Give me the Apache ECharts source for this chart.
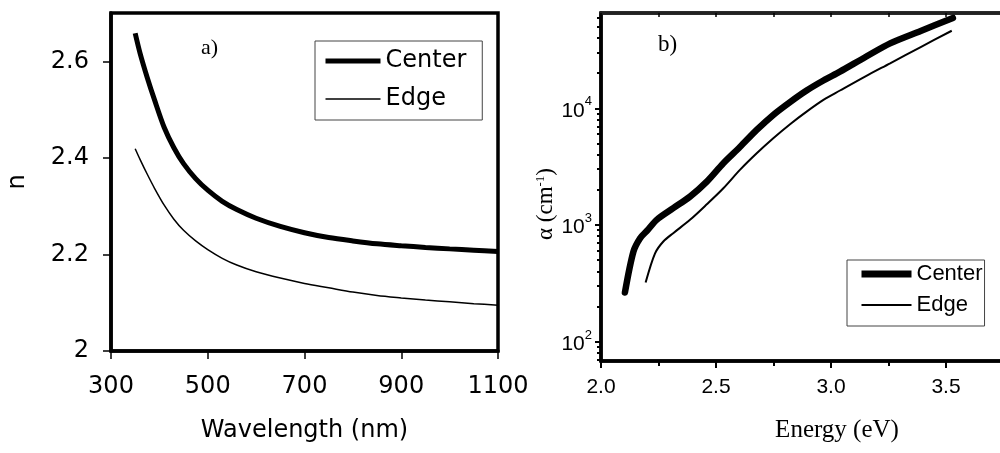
<!DOCTYPE html>
<html>
<head>
<meta charset="utf-8">
<script src="https://cdn.jsdelivr.net/npm/echarts@6/dist/echarts.min.js"></script>
<style>
html,body{margin:0;padding:0;background:#fff;}
#chart{width:1000px;height:453px;}
</style>
</head>
<body>
<div id="chart"></div>
<script>
// ---- Panel a) refractive index vs wavelength ----
const wavelength = [350, 360, 375, 390, 410, 430, 450, 475, 500, 530, 560, 600, 650, 700, 750, 800, 850, 900, 950, 1000, 1050, 1100];
const nCenter    = [2.658, 2.617, 2.566, 2.520, 2.463, 2.421, 2.388, 2.357, 2.333, 2.310, 2.293, 2.275, 2.258, 2.245, 2.235, 2.228, 2.222, 2.218, 2.2145, 2.2115, 2.2088, 2.206];
const nEdge      = [2.419, 2.397, 2.366, 2.337, 2.302, 2.273, 2.250, 2.228, 2.210, 2.192, 2.178, 2.164, 2.151, 2.140, 2.131, 2.122, 2.115, 2.110, 2.1055, 2.102, 2.098, 2.095];
const xTicksA = [300, 500, 700, 900, 1100];
const yTicksA = [2, 2.2, 2.4, 2.6];

// ---- Panel b) absorption coefficient vs energy ----
const energyCenter = [2.104, 2.141, 2.17, 2.20, 2.242, 2.314, 2.387, 2.46, 2.532, 2.604, 2.677, 2.749, 2.822, 2.894, 2.967, 3.039, 3.15, 3.257, 3.39, 3.53];
const alphaCenter  = [263, 590, 769, 890, 1104, 1390, 1748, 2350, 3380, 4650, 6520, 8770, 11300, 14200, 17300, 20600, 27500, 36000, 46000, 59500];
const energyEdge   = [2.194, 2.235, 2.271, 2.314, 2.387, 2.46, 2.532, 2.604, 2.677, 2.749, 2.822, 2.894, 2.967, 3.039, 3.15, 3.257, 3.39, 3.525];
const alphaEdge    = [320, 570, 720, 849, 1104, 1500, 2060, 2960, 4110, 5530, 7300, 9360, 11800, 14200, 18800, 24300, 33500, 46200];
const yMajorB = [100, 1000, 10000];
const yMinorB = [70, 80, 90, 200, 300, 400, 500, 600, 700, 800, 900, 2000, 3000, 4000, 5000, 6000, 7000, 8000, 9000, 20000, 30000, 40000, 50000, 60000];

const sans = 'DejaVu Sans';
const arial = 'Liberation Sans';
const serif = 'Liberation Serif';

const chart = echarts.init(document.getElementById('chart'), null, {renderer: 'canvas'});
chart.setOption({
  animation: false,
  backgroundColor: '#fff',
  grid: [
    {left: 111, top: 13, width: 387, height: 338, show: true, borderColor: '#000', borderWidth: 3.5, containLabel: false, outerBoundsMode: 'none'},
    {left: 601, top: 13, width: 460, height: 348, show: true, borderColor: '#111', borderWidth: 3.5, containLabel: false, outerBoundsMode: 'none'}
  ],
  xAxis: [
    {gridIndex: 0, type: 'value', min: 300, max: 1100, interval: 200,
     axisLine: {lineStyle: {color: '#000', width: 3.5}},
     axisTick: {show: true, inside: false, length: 8, lineStyle: {color: '#000', width: 1.5}},
     axisLabel: {color: '#000', fontFamily: sans, fontSize: 24, margin: 24, formatter: v => String(v)},
     splitLine: {show: false},
     name: 'Wavelength (nm)', nameLocation: 'middle', nameGap: 68,
     nameTextStyle: {color: '#000', fontFamily: sans, fontSize: 24}},
    {gridIndex: 1, type: 'value', min: 2, max: 4, interval: 0.5,
     axisLine: {lineStyle: {color: '#000', width: 3.5}},
     axisTick: {show: true, inside: false, length: 7, lineStyle: {color: '#000', width: 2}},
     minorTick: {show: true, splitNumber: 2, length: 5, lineStyle: {color: '#000', width: 2}},
     axisLabel: {color: '#000', fontFamily: arial, fontSize: 21, margin: 16, formatter: v => v.toFixed(1)},
     splitLine: {show: false},
     name: 'Energy (eV)', nameLocation: 'middle', nameGap: 57,
     nameTextStyle: {color: '#000', fontFamily: serif, fontSize: 25, padding: [0, 0, 0, 12]}},
    {gridIndex: 1, type: 'value', position: 'top', min: 2, max: 4, interval: 0.25,
     axisLine: {lineStyle: {color: '#222', width: 3.5}},
     axisTick: {show: true, inside: true, length: 4, lineStyle: {color: '#000', width: 1.5}},
     axisLabel: {show: false}, splitLine: {show: false}}
  ],
  yAxis: [
    {gridIndex: 0, type: 'value', min: 2, max: 2.7, interval: 0.2,
     axisLine: {lineStyle: {color: '#000', width: 3.5}},
     axisTick: {show: true, inside: false, length: 8, lineStyle: {color: '#000', width: 1.5}},
     axisLabel: {color: '#000', fontFamily: sans, fontSize: 24, margin: 22, showMaxLabel: false},
     splitLine: {show: false},
     name: 'n', nameLocation: 'middle', nameGap: 81, nameRotate: 90,
     nameTextStyle: {color: '#000', fontFamily: sans, fontSize: 24}},
    {gridIndex: 1, type: 'log', logBase: 10, min: 68, max: 65600, position: 'left',
     axisLine: {lineStyle: {color: '#000', width: 3.5}},
     axisTick: {show: true, inside: false, length: 6, lineStyle: {color: '#000', width: 2}, customValues: yMajorB},
     axisLabel: {color: '#000', fontFamily: arial, fontSize: 21, margin: 9, customValues: yMajorB,
       formatter: v => '{b|10}{s|' + Math.round(Math.log10(v)) + '}',
       rich: {b: {fontFamily: arial, fontSize: 21, color: '#000', verticalAlign: 'bottom', lineHeight: 26},
              s: {fontFamily: arial, fontSize: 13, color: '#000', verticalAlign: 'top', lineHeight: 14}}},
     splitLine: {show: false},
     name: 'α (cm{s|-1})', nameLocation: 'middle', nameGap: 43, nameRotate: 90,
     nameTextStyle: {color: '#000', fontFamily: serif, fontSize: 23, padding: [0, 34, 0, 0],
       rich: {s: {fontFamily: serif, fontSize: 13, color: '#000', verticalAlign: 'top', lineHeight: 14}}}},
    {gridIndex: 1, type: 'log', logBase: 10, min: 68, max: 65600, position: 'left',
     axisLine: {show: false},
     axisTick: {show: true, inside: false, length: 4, lineStyle: {color: '#000', width: 2}, customValues: yMinorB},
     axisLabel: {show: false}, splitLine: {show: false}}
  ],
  legend: [
    {orient: 'vertical', left: 315, top: 41, padding: [8, 16, 9, 8], itemGap: 14,
     itemWidth: 55, itemHeight: 14, selectedMode: false,
     backgroundColor: '#fff', borderColor: '#444', borderWidth: 1,
     textStyle: {color: '#000', fontFamily: sans, fontSize: 24},
     data: [{name: 'Center', lineStyle: {width: 5, color: '#000'}, itemStyle: {opacity: 0}},
            {name: 'Edge', lineStyle: {width: 1.5, color: '#000'}, itemStyle: {opacity: 0}}]},
    {orient: 'vertical', left: 847, top: 260, padding: [3, 2, 10, 11], itemGap: 9,
     itemWidth: 50, itemHeight: 14, selectedMode: false,
     backgroundColor: '#fff', borderColor: '#444', borderWidth: 1,
     textStyle: {color: '#000', fontFamily: arial, fontSize: 22},
     data: [{name: 'Center', lineStyle: {width: 7, color: '#000'}, itemStyle: {opacity: 0}},
            {name: 'Edge', lineStyle: {width: 2, color: '#000'}, itemStyle: {opacity: 0}}]}
  ],
  graphic: [
    {type: 'text', left: 201, top: 37, style: {text: 'a)', fontSize: 22, fontFamily: serif, fill: '#000'}},
    {type: 'text', left: 658, top: 33, style: {text: 'b)', fontSize: 23, fontFamily: serif, fill: '#000'}}
  ],
  series: [
    {name: 'Center', type: 'line', xAxisIndex: 0, yAxisIndex: 0, symbol: 'none', smooth: 0.3,
     lineStyle: {color: '#000', width: 5}, itemStyle: {color: '#000'},
     data: wavelength.map((w, i) => [w, nCenter[i]])},
    {name: 'Edge', type: 'line', xAxisIndex: 0, yAxisIndex: 0, symbol: 'none', smooth: 0.3,
     lineStyle: {color: '#000', width: 1.5}, itemStyle: {color: '#000'},
     data: wavelength.map((w, i) => [w, nEdge[i]])},
    {name: 'Center', type: 'line', xAxisIndex: 1, yAxisIndex: 1, symbol: 'none', smooth: 0.3,
     lineStyle: {color: '#000', width: 6.5, cap: 'round'}, itemStyle: {color: '#000'},
     data: energyCenter.map((e, i) => [e, alphaCenter[i]])},
    {name: 'Edge', type: 'line', xAxisIndex: 1, yAxisIndex: 1, symbol: 'none', smooth: 0.3,
     lineStyle: {color: '#000', width: 2}, itemStyle: {color: '#000'},
     data: energyEdge.map((e, i) => [e, alphaEdge[i]])}
  ]
});
</script>
</body>
</html>
